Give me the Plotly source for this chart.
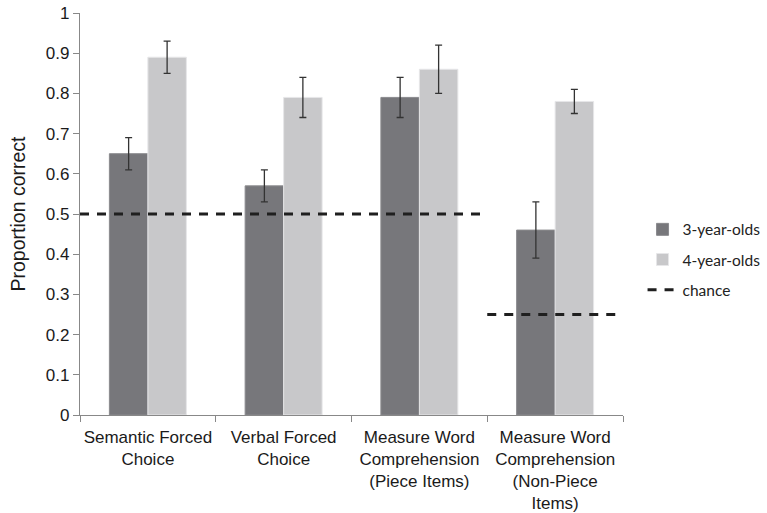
import plotly.graph_objects as go

# Task categories (x axis)
categories = [
    "Semantic Forced<br>Choice",
    "Verbal Forced<br>Choice",
    "Measure Word<br>Comprehension<br>(Piece Items)",
    "Measure Word<br>Comprehension<br>(Non-Piece<br>Items)",
]

# Mean proportion correct and standard errors
three_year_olds = [0.65, 0.57, 0.79, 0.46]
three_year_err = [0.04, 0.04, 0.05, 0.07]
four_year_olds = [0.89, 0.79, 0.86, 0.78]
four_year_err = [0.04, 0.05, 0.06, 0.03]

# Chance levels: 0.5 for the first three tasks, 0.25 for the last
chance_first_x = [-0.5, 2.5]
chance_first_y = [0.5, 0.5]
chance_last_x = [2.5, 3.5]
chance_last_y = [0.25, 0.25]

y_ticks = [0, 0.1, 0.2, 0.3, 0.4, 0.5, 0.6, 0.7, 0.8, 0.9, 1]

AX_FONT = "Liberation Sans, Arial, sans-serif"
LEG_FONT = "Lato, Carlito, sans-serif"
DARK = "#77777b"
LIGHT = "#c8c8ca"

fig = go.Figure()

fig.add_trace(go.Bar(
    x=categories, y=three_year_olds, name="3-year-olds",
    marker=dict(color=DARK, line=dict(color="#8a8a8e", width=1)),
    error_y=dict(type="data", array=three_year_err, color="#333333",
                 thickness=1.3, width=3.5),
    legendgroup="a",
))
fig.add_trace(go.Bar(
    x=categories, y=four_year_olds, name="4-year-olds",
    marker=dict(color=LIGHT, line=dict(color="#e6e6e8", width=1)),
    error_y=dict(type="data", array=four_year_err, color="#333333",
                 thickness=1.3, width=3.5),
    legendgroup="b",
))

dash_line = dict(color="#1f1f1f", width=3, dash="9px,8px")
fig.add_trace(go.Scatter(
    x=chance_first_x, y=chance_first_y, mode="lines", name="chance",
    line=dash_line, xaxis="x2", legendgroup="c",
))
fig.add_trace(go.Scatter(
    x=chance_last_x, y=chance_last_y, mode="lines", name="chance",
    line=dash_line, xaxis="x2", legendgroup="c", showlegend=False,
))

fig.update_layout(
    width=767, height=513,
    margin=dict(l=80, r=144, t=13, b=98, autoexpand=False),
    paper_bgcolor="white", plot_bgcolor="white",
    barmode="group", bargap=0.433, bargroupgap=0,
    showlegend=True,
    legend=dict(
        x=1.036, y=0.503, xanchor="left", yanchor="top",
        font=dict(family=LEG_FONT, size=15.5, color="#222222"),
        traceorder="grouped", tracegroupgap=7,
        itemwidth=30, bgcolor="rgba(0,0,0,0)",
    ),
    xaxis=dict(
        type="category", tickson="boundaries", ticks="outside",
        ticklen=6, tickcolor="#888888", showline=True,
        linecolor="#888888", linewidth=1.3, showgrid=False,
        tickangle=0, ticklabelstandoff=6,
        tickfont=dict(family=AX_FONT, size=17, color="#1a1a1a"),
        range=[-0.5, 3.5],
    ),
    xaxis2=dict(
        overlaying="x", range=[-0.5, 3.5], visible=False,
    ),
    yaxis=dict(
        range=[0, 1], tickvals=y_ticks,
        ticktext=["0", "0.1", "0.2", "0.3", "0.4", "0.5", "0.6", "0.7",
                  "0.8", "0.9", "1"],
        ticks="outside", ticklen=6, tickcolor="#888888",
        showline=True, linecolor="#888888", linewidth=1.3,
        showgrid=False, zeroline=False,
        tickfont=dict(family=AX_FONT, size=17, color="#1a1a1a"),
        title=dict(text="Proportion correct",
                   font=dict(family=AX_FONT, size=19.5, color="#1a1a1a"),
                   standoff=14),
    ),
)

fig.write_html("out.html")
